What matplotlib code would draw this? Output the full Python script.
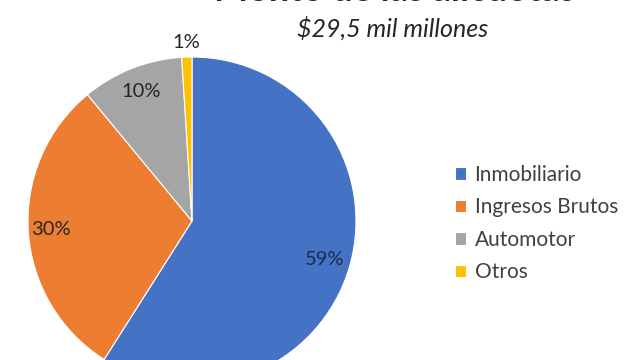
import matplotlib
matplotlib.use("Agg")
import matplotlib.pyplot as plt
import numpy as np

categories = ["Inmobiliario", "Ingresos Brutos", "Automotor", "Otros"]
values = [59, 30, 10, 1]
pct_labels = ["59%", "30%", "10%", "1%"]
colors = ["#4472C4", "#ED7D31", "#A5A5A5", "#FFC000"]
label_dist = [0.84, 0.86, 0.85, 1.09]
label_colors = ["#1F2A4A", "#262626", "#262626", "#262626"]

plt.rcParams['font.family'] = ['Lato', 'DejaVu Sans']

fig = plt.figure(figsize=(6.4, 3.6), dpi=100)
W, H = 640, 360
cx, cy, R = 192, 221, 164
ax = fig.add_axes([(cx - R) / W, (H - cy - R) / H, 2 * R / W, 2 * R / H])
wedges, _ = ax.pie(values, colors=colors, startangle=90, counterclock=False,
                   wedgeprops=dict(edgecolor="white", linewidth=0.8))
ax.set_xlim(-1, 1)
ax.set_ylim(-1, 1)
ax.axis("off")

for w, lab, d, c in zip(wedges, pct_labels, label_dist, label_colors):
    ang = np.deg2rad((w.theta1 + w.theta2) / 2)
    ax.text(d * np.cos(ang), d * np.sin(ang), lab, ha="center", va="center",
            fontsize=14.5, color=c)

# Title (mostly cut off at top in the original) and subtitle
fig.text(395 / W, 1.0 - 1 / H, "Monto de las alícuotas", ha="center", va="baseline",
         fontsize=26, fontweight="bold", color="#262626")
fig.text(393 / W, 1 - 28 / H, "$29,5 mil millones", ha="center", va="center",
         fontsize=18, style="italic", color="#262626")

leg = fig.legend(wedges, categories, loc="upper left",
                 bbox_to_anchor=(436 / W, 1 - 146 / H), frameon=False,
                 fontsize=15, handlelength=0.55, handleheight=0.55,
                 handletextpad=0.4, labelspacing=0.6, labelcolor="#404040")

fig.savefig("out.png", dpi=100, facecolor="white")
